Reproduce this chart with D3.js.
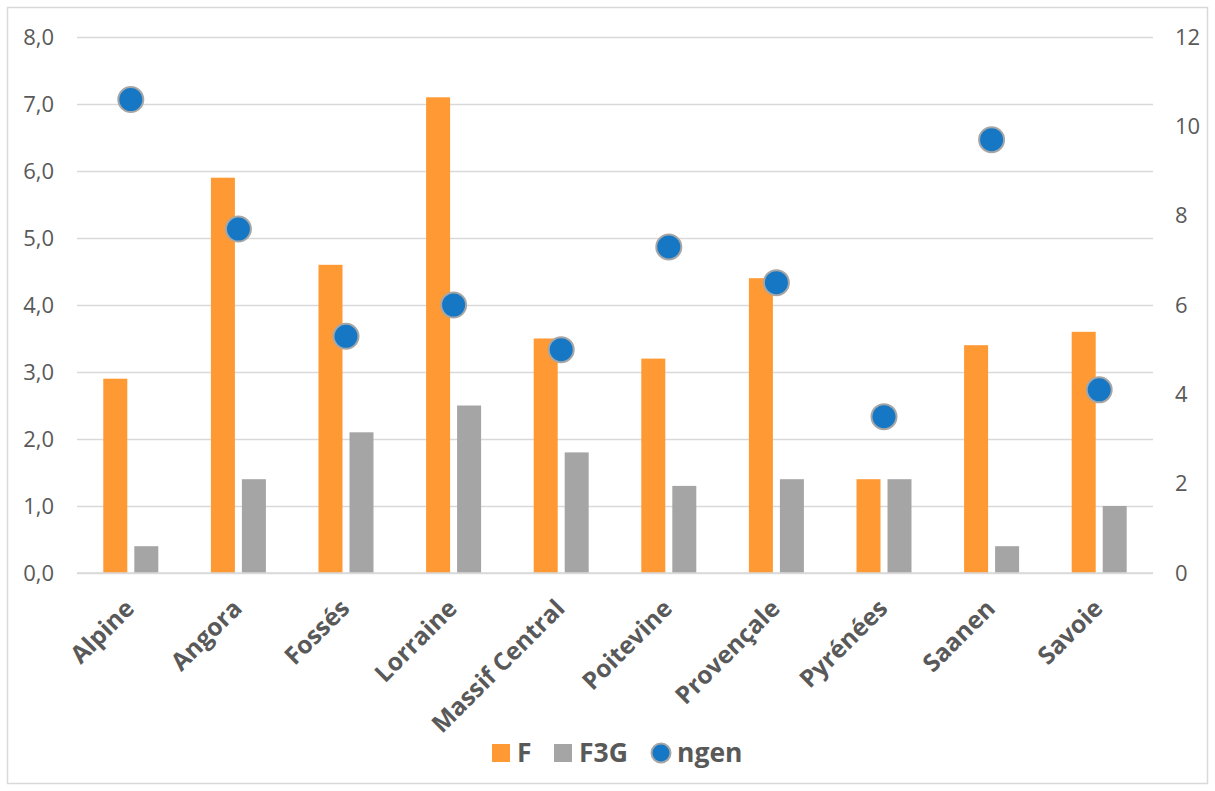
<!DOCTYPE html>
<html><head><meta charset="utf-8">
<script src="https://cdn.jsdelivr.net/npm/d3@7"></script>
<style>body{margin:0;background:#fff}</style>
</head><body>
<svg id="c" width="1215" height="791"></svg>
<script>
const categories = ["Alpine","Angora","Fossés","Lorraine","Massif Central","Poitevine","Provençale","Pyrénées","Saanen","Savoie"];
const F   = [2.9, 5.9, 4.6, 7.1, 3.5, 3.2, 4.4, 1.4, 3.4, 3.6];
const F3G = [0.4, 1.4, 2.1, 2.5, 1.8, 1.3, 1.4, 1.4, 0.4, 1.0];
const ngen = [10.6, 7.7, 5.3, 6.0, 5.0, 7.3, 6.5, 3.5, 9.7, 4.1];
const leftTicks = [0,1,2,3,4,5,6,7,8];
const rightTicks = [0,2,4,6,8,10,12];
const seriesNames = ["F","F3G","ngen"];

const svg = d3.select("#c");
const font = "'Open Sans', 'DejaVu Sans', sans-serif";
const txt = "#595959";
const m = {l:77, r:1153, t:37, b:573};

svg.append("rect").attr("x",7.5).attr("y",7.5).attr("width",1200).attr("height",776)
  .attr("fill","#fff").attr("stroke","#D9D9D9").attr("stroke-width",1.5);

const x = d3.scaleBand().domain(categories).range([m.l, m.r]).paddingInner(0).paddingOuter(0);
const yL = d3.scaleLinear().domain([0,8]).range([m.b, m.t]);
const yR = d3.scaleLinear().domain([0,12]).range([m.b, m.t]);

// gridlines
const grid = svg.append("g").attr("transform",`translate(${m.l},0)`)
  .call(d3.axisLeft(yL).tickValues(leftTicks).tickSize(-(m.r-m.l)).tickFormat(""));
grid.select(".domain").remove();
grid.selectAll("line").attr("stroke","#D9D9D9").attr("stroke-width",1.5);

// left labels
const la = svg.append("g").attr("transform",`translate(${m.l},0)`)
  .call(d3.axisLeft(yL).tickValues(leftTicks).tickSize(0).tickPadding(23)
    .tickFormat(d => d3.format(".1f")(d).replace(".",",")));
la.select(".domain").remove();
la.selectAll("text").attr("font-family",font).attr("font-size",22).attr("fill",txt);

// right labels
const ra = svg.append("g").attr("transform",`translate(${m.r},0)`)
  .call(d3.axisRight(yR).tickValues(rightTicks).tickSize(0).tickPadding(22).tickFormat(d3.format("d")));
ra.select(".domain").remove();
ra.selectAll("text").attr("font-family",font).attr("font-size",22).attr("fill",txt);

const bw = 24, gap = 7;
const cx = c => x(c) + x.bandwidth()/2;

svg.append("g").selectAll("rect").data(categories).join("rect")
  .attr("x", c => cx(c) - gap/2 - bw).attr("width", bw)
  .attr("y", (c,i) => yL(F[i])).attr("height", (c,i) => yL(0) - yL(F[i]))
  .attr("fill","#FF9933");
svg.append("g").selectAll("rect").data(categories).join("rect")
  .attr("x", c => cx(c) + gap/2).attr("width", bw)
  .attr("y", (c,i) => yL(F3G[i])).attr("height", (c,i) => yL(0) - yL(F3G[i]))
  .attr("fill","#A5A5A5");

// baseline
svg.append("line").attr("x1",m.l).attr("x2",m.r).attr("y1",yL(0)).attr("y2",yL(0))
  .attr("stroke","#D9D9D9").attr("stroke-width",1.5);

// dots
svg.append("g").selectAll("circle").data(categories).join("circle")
  .attr("cx", c => cx(c)).attr("cy", (c,i) => yR(ngen[i])).attr("r", 12.5)
  .attr("fill","#1678C4").attr("stroke","#A6A6A6").attr("stroke-width",2);

// x labels
svg.append("g").selectAll("text").data(categories).join("text")
  .attr("transform", c => `translate(${cx(c)+5},${610}) rotate(-45)`)
  .attr("text-anchor","end")
  .attr("font-family",font).attr("font-size",24.5).attr("font-weight","bold").attr("fill",txt)
  .text(c => c);

// legend
const lg = svg.append("g").attr("font-family",font).attr("font-size",26.5).attr("font-weight","bold").attr("fill",txt);
lg.append("rect").attr("x",492).attr("y",744).attr("width",18).attr("height",18).attr("fill","#FF9933");
lg.append("text").attr("x",517).attr("y",762).text(seriesNames[0]);
lg.append("rect").attr("x",554).attr("y",744).attr("width",18).attr("height",18).attr("fill","#A5A5A5");
lg.append("text").attr("x",579).attr("y",762).text(seriesNames[1]);
lg.append("circle").attr("cx",661).attr("cy",753).attr("r",9.5).attr("fill","#1678C4").attr("stroke","#A6A6A6").attr("stroke-width",2);
lg.append("text").attr("x",677).attr("y",762).text(seriesNames[2]);
</script>
</body></html>
